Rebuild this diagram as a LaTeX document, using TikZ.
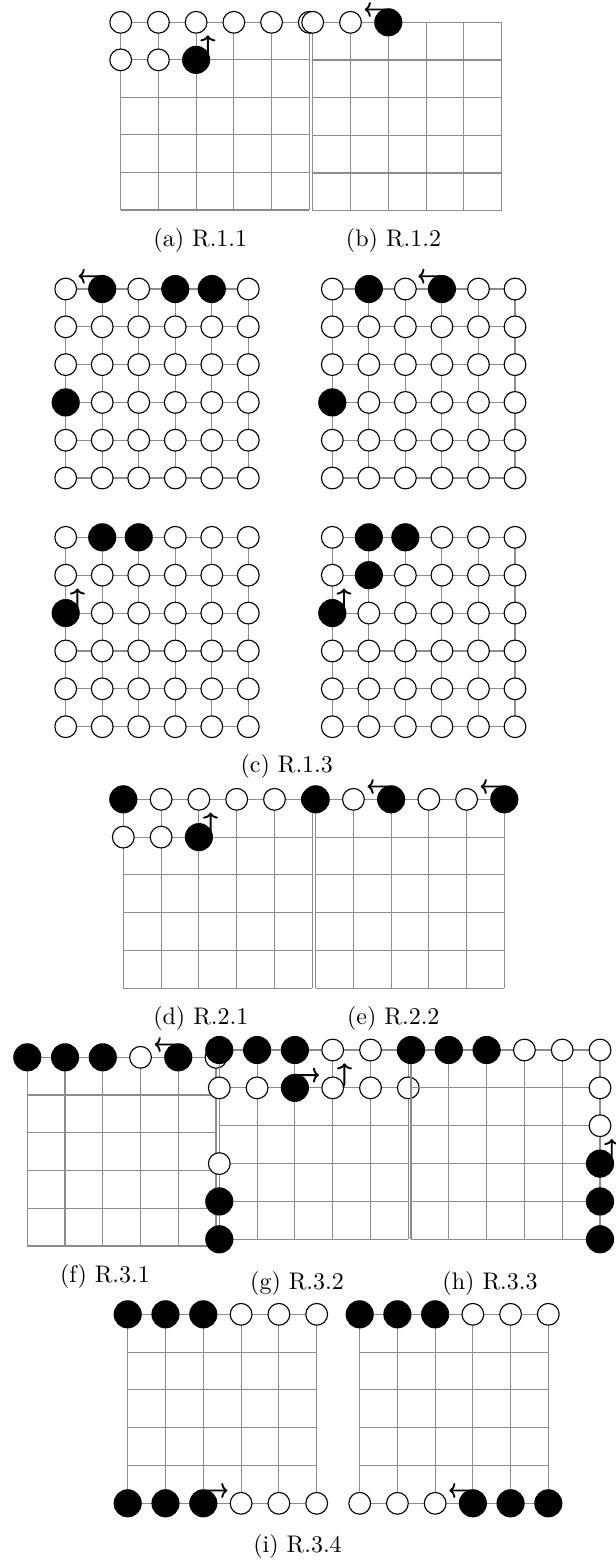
\documentclass[tikz,border=0pt]{standalone}
\usetikzlibrary{arrows.meta}
\newcommand\mygrid[5]{%
  \foreach \i in {0,...,5}{\foreach \j in {0,...,5}{\coordinate (#1-\i-\j) at ({#2+\i*#4},{#3+\j*#5});}}%
  \foreach \k in {0,...,5}{\draw[gridline] (#1-\k-0) -- (#1-\k-5); \draw[gridline] (#1-0-\k) -- (#1-5-\k);}%
}
\newcommand\Cw[1]{\node[wc] (n#1) at (#1) {};}
\newcommand\Cb[1]{\node[bc] (b#1) at (#1) {};}
\newcommand\ArUp[1]{\draw[arr] (#1) -- ++(11.7,0) -- ++(0,-24.5);}
\newcommand\ArL[1]{\draw[arr] (#1) -- ++(0,-12.8) -- ++(-23.5,0);}
\newcommand\ArR[1]{\draw[arr] (#1) -- ++(0,-12.8) -- ++(24,0);}
\newcommand\AllW[1]{\foreach \i in {0,...,5}{\foreach \j in {0,...,5}{\Cw{#1-\i-\j}}}}
\begin{document}
\begin{tikzpicture}[x=0.4pt,y=-0.4pt,
  gridline/.style={draw=black!45,line width=0.45pt},
  wc/.style={circle,draw=black,fill=white,line width=0.45pt,minimum size=8.7pt,inner sep=0pt},
  bc/.style={circle,draw=black,fill=black,line width=0.45pt,minimum size=10.8pt,inner sep=0pt},
  arr/.style={draw=black,line width=0.75pt,-{To[length=2.4pt,width=6pt]},rounded corners=1.5pt},
  captxt/.style={font=\fontsize{9.6}{11}\selectfont,inner sep=0pt}]
\fill[white] (0,0) rectangle (615,1562);
\useasboundingbox (0,0) rectangle (615,1562);
% (a)
\mygrid{a}{120.7}{22.3}{37.72}{37.54}
\ArUp{a-2-1}
\foreach \i in {0,...,5}{\Cw{a-\i-0}}
\Cw{a-0-1}\Cw{a-1-1}\Cb{a-2-1}
% (b)
\mygrid{b}{312.7}{22.3}{37.8}{37.68}
\ArL{b-2-0}
\Cw{b-0-0}\Cw{b-1-0}\Cb{b-2-0}
\node[captxt] (capa) at (200.3,240.7) {(a) R.1.1};
\node[captxt] (capb) at (393.5,240.7) {(b) R.1.2};
% (c)
\mygrid{ca}{65.7}{289}{36.52}{37.8}
\ArL{ca-1-0}
\AllW{ca}
\Cb{ca-1-0}\Cb{ca-3-0}\Cb{ca-4-0}\Cb{ca-0-3}
\mygrid{cb}{332.3}{289}{36.54}{37.8}
\ArL{cb-3-0}
\AllW{cb}
\Cb{cb-1-0}\Cb{cb-3-0}\Cb{cb-0-3}
\mygrid{cc}{65.7}{537.3}{36.52}{37.88}
\ArUp{cc-0-2}
\AllW{cc}
\Cb{cc-1-0}\Cb{cc-2-0}\Cb{cc-0-2}
\mygrid{cd}{332.3}{537.3}{36.54}{37.88}
\ArUp{cd-0-2}
\AllW{cd}
\Cb{cd-1-0}\Cb{cd-2-0}\Cb{cd-1-1}\Cb{cd-0-2}
\node[captxt] (capc) at (286.7,766) {(c) R.1.3};
% (d)
\mygrid{d}{123.3}{799.3}{37.8}{37.8}
\ArUp{d-2-1}
\Cb{d-0-0}\Cw{d-1-0}\Cw{d-2-0}\Cw{d-3-0}\Cw{d-4-0}\Cw{d-5-0}
\Cw{d-0-1}\Cw{d-1-1}\Cb{d-2-1}
% (e)
\mygrid{e}{315.7}{799.3}{37.72}{37.8}
\ArL{e-2-0}\ArL{e-5-0}
\Cb{e-0-0}\Cw{e-1-0}\Cb{e-2-0}\Cw{e-3-0}\Cw{e-4-0}\Cb{e-5-0}
\node[captxt] (capd) at (200.8,1018.3) {(d) R.2.1};
\node[captxt] (cape) at (393.3,1018.3) {(e) R.2.2};
% (f)
\mygrid{f}{27.3}{1057.3}{37.74}{37.74}
\ArL{f-4-0}
\Cb{f-0-0}\Cb{f-1-0}\Cb{f-2-0}\Cw{f-3-0}\Cb{f-4-0}\Cw{f-5-0}
% (g)
\mygrid{g}{219.3}{1050}{37.8}{37.86}
\ArR{g-2-1}\ArUp{g-3-1}
\Cb{g-0-0}\Cb{g-1-0}\Cb{g-2-0}\Cw{g-3-0}\Cw{g-4-0}\Cw{g-5-0}
\Cw{g-0-1}\Cw{g-1-1}\Cb{g-2-1}\Cw{g-3-1}\Cw{g-4-1}\Cw{g-5-1}
\Cw{g-0-3}\Cb{g-0-4}\Cb{g-0-5}
% (h)
\mygrid{h}{411}{1050}{37.8}{37.86}
\ArUp{h-5-3}
\Cb{h-0-0}\Cb{h-1-0}\Cb{h-2-0}\Cw{h-3-0}\Cw{h-4-0}\Cw{h-5-0}
\Cw{h-5-1}\Cw{h-5-2}\Cb{h-5-3}\Cb{h-5-4}\Cb{h-5-5}
\node[captxt] (capf) at (105,1276.7) {(f) R.3.1};
\node[captxt] (capg) at (297,1283.3) {(g) R.3.2};
\node[captxt] (caph) at (490,1283.3) {(h) R.3.3};
% (i)
\mygrid{ia}{127.7}{1314.3}{37.8}{37.8}
\ArR{ia-2-5}
\Cb{ia-0-0}\Cb{ia-1-0}\Cb{ia-2-0}\Cw{ia-3-0}\Cw{ia-4-0}\Cw{ia-5-0}
\Cb{ia-0-5}\Cb{ia-1-5}\Cb{ia-2-5}\Cw{ia-3-5}\Cw{ia-4-5}\Cw{ia-5-5}
\mygrid{ib}{359.7}{1314.3}{37.72}{37.8}
\ArL{ib-3-5}
\Cb{ib-0-0}\Cb{ib-1-0}\Cb{ib-2-0}\Cw{ib-3-0}\Cw{ib-4-0}\Cw{ib-5-0}
\Cw{ib-0-5}\Cw{ib-1-5}\Cw{ib-2-5}\Cb{ib-3-5}\Cb{ib-4-5}\Cb{ib-5-5}
\node[captxt] (capi) at (297.5,1546.7) {(i) R.3.4};
\end{tikzpicture}
\end{document}
